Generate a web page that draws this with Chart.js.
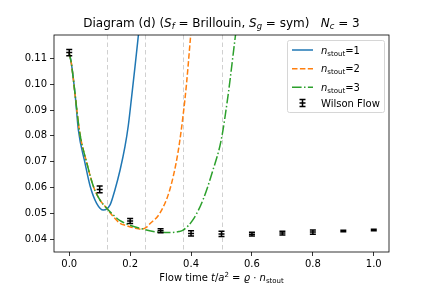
<!DOCTYPE html>
<html>
<head>
<meta charset="utf-8">
<script src="https://cdn.jsdelivr.net/npm/chart.js@4/dist/chart.umd.min.js"></script>
<style>
    html, body { margin: 0; padding: 0; background: #fff; }
    #wrap { width: 432px; height: 288px; }
</style>
</head>
<body>
<div id="wrap"><canvas id="chart" width="432" height="288"></canvas></div>
<script>
// values
const wilsonX = [0.0, 0.1, 0.2, 0.3, 0.4, 0.5, 0.6, 0.7, 0.8, 0.9, 1.0];
const wilsonY = [0.1122, 0.0593, 0.0471, 0.0433, 0.0423, 0.0421, 0.0420, 0.0424, 0.0428, 0.0432, 0.0436];
const wilsonErr = [0.0012, 0.0013, 0.0010, 0.0008, 0.0010, 0.0010, 0.0007, 0.0007, 0.0008, 0.0003, 0.0003];

const blueX = [0, 0.007, 0.02, 0.030, 0.052, 0.069, 0.090, 0.112, 0.134, 0.150, 0.167, 0.183, 0.194, 0.205, 0.216, 0.229, 0.240];
const blueY = [0.112, 0.108, 0.0952, 0.0823, 0.0694, 0.0604, 0.0539, 0.0513, 0.0533, 0.0591, 0.0668, 0.0758, 0.0840, 0.0952, 0.1068, 0.1210, 0.1330];

const orangeX = [0, 0.007, 0.02, 0.034, 0.058, 0.0795, 0.101, 0.123, 0.145, 0.167, 0.188, 0.216, 0.237, 0.254, 0.265, 0.297, 0.330, 0.357, 0.374, 0.385, 0.396, 0.405];
const orangeY = [0.112, 0.108, 0.0952, 0.0816, 0.0694, 0.0604, 0.0552, 0.0520, 0.0487, 0.0462, 0.0453, 0.0443, 0.0439, 0.0447, 0.0460, 0.0500, 0.0591, 0.0735, 0.0880, 0.1000, 0.1150, 0.1280];

const greenX = [0, 0.007, 0.02, 0.034, 0.058, 0.0795, 0.101, 0.123, 0.145, 0.167, 0.199, 0.232, 0.276, 0.300, 0.330, 0.360, 0.374, 0.406, 0.439, 0.472, 0.499, 0.521, 0.546, 0.560];
const greenY = [0.112, 0.108, 0.0952, 0.0816, 0.0694, 0.0604, 0.0552, 0.0520, 0.0494, 0.0472, 0.0455, 0.0443, 0.0430, 0.0427, 0.0426, 0.0430, 0.0436, 0.0475, 0.0552, 0.0668, 0.0784, 0.0952, 0.1190, 0.1320];

const markerX = [0.125, 0.25, 0.375, 0.5];
const xTicks = [0.0, 0.2, 0.4, 0.6, 0.8, 1.0];
const yTicks = [0.04, 0.05, 0.06, 0.07, 0.08, 0.09, 0.10, 0.11];

const FONT = "'DejaVu Sans', sans-serif";
const BLUE = "#1f77b4";
const ORANGE = "#ff7f0e";
const GREEN = "#2ca02c";

const toPoints = (xs, ys) => xs.map((x, i) => ({ x, y: ys[i] }));

// draws a row of text pieces (italic / sub / sup) centred or left aligned
const drawRich = (ctx, parts, x, baseline, size, align) => {
    const fontOf = p => {
        const s = (p.sub || p.sup) ? size * 0.7 : size;
        return `${p.it ? "italic " : ""}${s}px ${FONT}`;
    };
    let total = 0;
    parts.forEach(p => {
        ctx.font = fontOf(p);
        p.w = ctx.measureText(p.t).width;
        total += p.w;
    });
    let cx = align === "left" ? x : x - total / 2;
    ctx.textAlign = "left";
    ctx.textBaseline = "alphabetic";
    parts.forEach(p => {
        ctx.font = fontOf(p);
        let by = baseline;
        if (p.sub) by += size * 0.2;
        if (p.sup) by -= size * 0.4;
        ctx.fillText(p.t, cx, by);
        cx += p.w;
    });
};

const drawErrorBar = (ctx, px, py, top, bottom) => {
    ctx.beginPath();
    ctx.moveTo(px, top);
    ctx.lineTo(px, bottom);
    ctx.moveTo(px - 3, top);
    ctx.lineTo(px + 3, top);
    ctx.moveTo(px - 3, bottom);
    ctx.lineTo(px + 3, bottom);
    ctx.moveTo(px - 3, py);
    ctx.lineTo(px + 3, py);
    ctx.stroke();
};

const decorPlugin = {
    id: "decor",
    beforeDatasetsDraw(chart) {
        const { ctx, chartArea, scales } = chart;
        ctx.save();
        ctx.strokeStyle = "rgba(150,150,150,0.45)";
        ctx.lineWidth = 1;
        ctx.setLineDash([4.5, 3]);
        markerX.forEach(v => {
            const px = Math.round(scales.x.getPixelForValue(v)) + 0.5;
            ctx.beginPath();
            ctx.moveTo(px, chartArea.top);
            ctx.lineTo(px, chartArea.bottom);
            ctx.stroke();
        });
        ctx.restore();
    },
    afterDatasetsDraw(chart) {
        const { ctx, scales } = chart;
        ctx.save();
        ctx.strokeStyle = "#000";
        ctx.lineWidth = 1.5;
        wilsonX.forEach((x, i) => {
            const px = scales.x.getPixelForValue(x);
            const py = scales.y.getPixelForValue(wilsonY[i]);
            const top = scales.y.getPixelForValue(wilsonY[i] + wilsonErr[i]);
            const bottom = scales.y.getPixelForValue(wilsonY[i] - wilsonErr[i]);
            drawErrorBar(ctx, px, py, top, bottom);
        });
        ctx.restore();
    },
    afterDraw(chart) {
        const { ctx, chartArea } = chart;
        const { left, right, top, bottom } = chartArea;
        ctx.save();

        // frame
        ctx.strokeStyle = "#000";
        ctx.lineWidth = 0.8;
        ctx.strokeRect(left, top, right - left, bottom - top);

        // title and axis label
        ctx.fillStyle = "#000";
        const mid = (left + right) / 2;
        drawRich(ctx, [
            { t: "Diagram (d) (" },
            { t: "S", it: true }, { t: "f", it: true, sub: true },
            { t: " = Brillouin, " },
            { t: "S", it: true }, { t: "g", it: true, sub: true },
            { t: " = sym)   " },
            { t: "N", it: true }, { t: "c", it: true, sub: true },
            { t: " = 3" }
        ], mid, 27, 12);
        drawRich(ctx, [
            { t: "Flow time " },
            { t: "t", it: true }, { t: "/" }, { t: "a", it: true }, { t: "2", sup: true },
            { t: " = " },
            { t: "\u03f1", it: true }, { t: " \u00b7 " },
            { t: "n", it: true }, { t: "stout", sub: true }
        ], mid, 281, 10);

        // legend
        const lx = 287, ly = 40, lw = 97, lh = 72;
        ctx.fillStyle = "rgba(255,255,255,0.8)";
        ctx.strokeStyle = "#d6d6d6";
        ctx.lineWidth = 1;
        ctx.beginPath();
        ctx.roundRect(lx + 0.5, ly + 0.5, lw, lh, 2);
        ctx.fill();
        ctx.stroke();

        const rows = [
            { color: BLUE, dash: [], y: 50 },
            { color: ORANGE, dash: [5.5, 2.4], y: 68.7 },
            { color: GREEN, dash: [9.6, 2.4, 1.5, 2.4], y: 87.3 }
        ];
        rows.forEach((r, i) => {
            ctx.strokeStyle = r.color;
            ctx.lineWidth = 1.5;
            ctx.setLineDash(r.dash);
            ctx.beginPath();
            ctx.moveTo(292, r.y);
            ctx.lineTo(313, r.y);
            ctx.stroke();
            ctx.setLineDash([]);
            ctx.fillStyle = "#000";
            drawRich(ctx, [
                { t: "n", it: true }, { t: "stout", sub: true }, { t: "=" + (i + 1) }
            ], 321, r.y + 3.5, 10, "left");
        });
        ctx.strokeStyle = "#000";
        ctx.lineWidth = 1.5;
        drawErrorBar(ctx, 302.5, 103, 99.5, 106.5);
        ctx.fillStyle = "#000";
        ctx.font = `10px ${FONT}`;
        ctx.textAlign = "left";
        ctx.textBaseline = "alphabetic";
        ctx.fillText("Wilson Flow", 321, 106.5);

        ctx.restore();
    }
};

const lineSet = (label, xs, ys, color, dash, order) => ({
    label,
    data: toPoints(xs, ys),
    showLine: true,
    borderColor: color,
    backgroundColor: color,
    borderWidth: 1.5,
    borderDash: dash,
    pointRadius: 0,
    cubicInterpolationMode: "monotone",
    capBezierPoints: false,
    clip: 0,
    order
});

new Chart(document.getElementById("chart"), {
    type: "scatter",
    data: {
        datasets: [
            lineSet("n_stout=1", blueX, blueY, BLUE, [], 3),
            lineSet("n_stout=2", orangeX, orangeY, ORANGE, [5.5, 2.4], 2),
            lineSet("n_stout=3", greenX, greenY, GREEN, [9.6, 2.4, 1.5, 2.4], 1)
        ]
    },
    options: {
        responsive: false,
        devicePixelRatio: 1,
        animation: false,
        layout: { padding: { left: 0, right: 43, top: 35, bottom: 0 } },
        plugins: {
            legend: { display: false },
            title: { display: false },
            tooltip: { enabled: false }
        },
        scales: {
            x: {
                type: "linear",
                min: -0.05,
                max: 1.05,
                afterBuildTicks: scale => { scale.ticks = xTicks.map(value => ({ value })); },
                afterFit: scale => { scale.height = 36; },
                ticks: {
                    color: "#000",
                    font: { family: FONT, size: 10 },
                    padding: 2,
                    maxRotation: 0,
                    callback: v => Number(v).toFixed(1)
                },
                grid: { drawOnChartArea: false, drawTicks: true, tickLength: 4, tickColor: "#000", tickWidth: 0.8 },
                border: { display: false }
            },
            y: {
                type: "linear",
                min: 0.0351,
                max: 0.119,
                afterBuildTicks: scale => { scale.ticks = yTicks.map(value => ({ value })); },
                afterFit: scale => { scale.width = 54; },
                ticks: {
                    color: "#000",
                    font: { family: FONT, size: 10 },
                    padding: 3,
                    callback: v => Number(v).toFixed(2)
                },
                grid: { drawOnChartArea: false, drawTicks: true, tickLength: 4, tickColor: "#000", tickWidth: 0.8 },
                border: { display: false }
            }
        }
    },
    plugins: [decorPlugin]
});
</script>
</body>
</html>
